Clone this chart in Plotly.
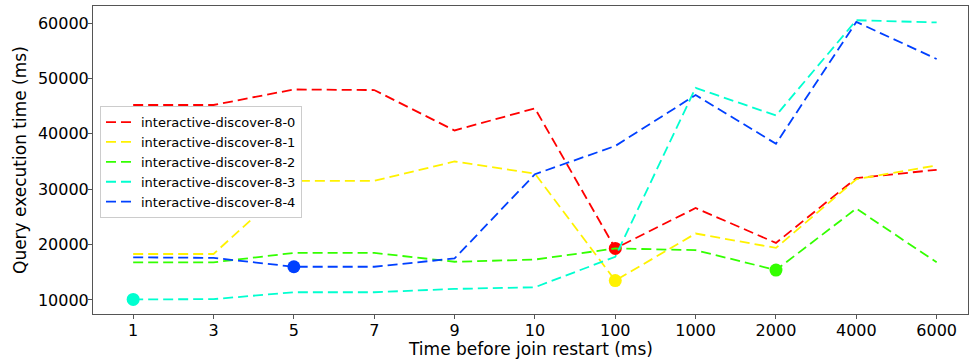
import plotly.graph_objects as go

x_labels = ["1", "3", "5", "7", "9", "10", "100", "1000", "2000", "4000", "6000"]
series_names = ["interactive-discover-8-0", "interactive-discover-8-1", "interactive-discover-8-2",
                "interactive-discover-8-3", "interactive-discover-8-4"]
s0 = [45200, 45200, 48000, 47900, 40600, 44600, 19300, 26600, 20300, 32000, 33500]
s1 = [18300, 18300, 31500, 31500, 35000, 32800, 13500, 22000, 19400, 31800, 34300]
s2 = [16800, 16800, 18500, 18500, 16900, 17300, 19300, 19000, 15400, 26500, 16800]
s3 = [10100, 10150, 11400, 11400, 12000, 12300, 17800, 48300, 43300, 60500, 60100]
s4 = [17700, 17600, 16000, 16000, 17500, 32700, 37800, 47000, 38200, 60200, 53500]
series = [s0, s1, s2, s3, s4]
colors = ["#ff0000", "#fff200", "#33ff00", "#00ffd0", "#0040ff"]

fig = go.Figure()
for name, vals, col in zip(series_names, series, colors):
    fig.add_trace(go.Scatter(x=x_labels, y=vals, mode="lines", name=name,
                             line=dict(color=col, width=1.8, dash="10px,5px")))
    i = vals.index(min(vals))
    fig.add_trace(go.Scatter(x=[x_labels[i]], y=[vals[i]], mode="markers", showlegend=False,
                             marker=dict(color=col, size=13), hoverinfo="skip"))

axis_common = dict(showline=True, linecolor="#555555", linewidth=1, mirror=True,
                   ticks="outside", ticklen=4, tickcolor="#555555", showgrid=False,
                   zeroline=False, automargin=False, tickfont=dict(size=16, color="black"))
fig.update_layout(
    width=969, height=363,
    margin=dict(l=93, r=1, t=6, b=49),
    plot_bgcolor="white", paper_bgcolor="white",
    font=dict(family="DejaVu Sans", color="black"),
    xaxis=dict(type="category", range=[-0.5, 10.39], ticklabelstandoff=-2, **axis_common),
    yaxis=dict(range=[7470, 63070], tickvals=[10000, 20000, 30000, 40000, 50000, 60000],
               ticktext=["10000", "20000", "30000", "40000", "50000", "60000"],
               ticklabelstandoff=-4, **axis_common),
    legend=dict(x=0.008, y=0.675, xanchor="left", yanchor="top",
                bgcolor="white", bordercolor="#cccccc", borderwidth=1,
                font=dict(size=13), tracegroupgap=0, itemwidth=30),
    showlegend=True,
    annotations=[
        dict(text="Time before join restart (ms)", xref="paper", yref="paper",
             x=0.5, y=-(349 - 314) / 308, xanchor="center", yanchor="middle",
             showarrow=False, font=dict(size=17)),
        dict(text="Query execution time (ms)", xref="paper", yref="paper",
             x=-(93 - 20) / 875, y=0.5, xanchor="center", yanchor="middle",
             textangle=-90, showarrow=False, font=dict(size=17)),
    ],
)
fig.write_html("out.html", config={"displayModeBar": False},
               post_script="document.body.style.margin='0px';document.body.style.overflow='hidden';")
